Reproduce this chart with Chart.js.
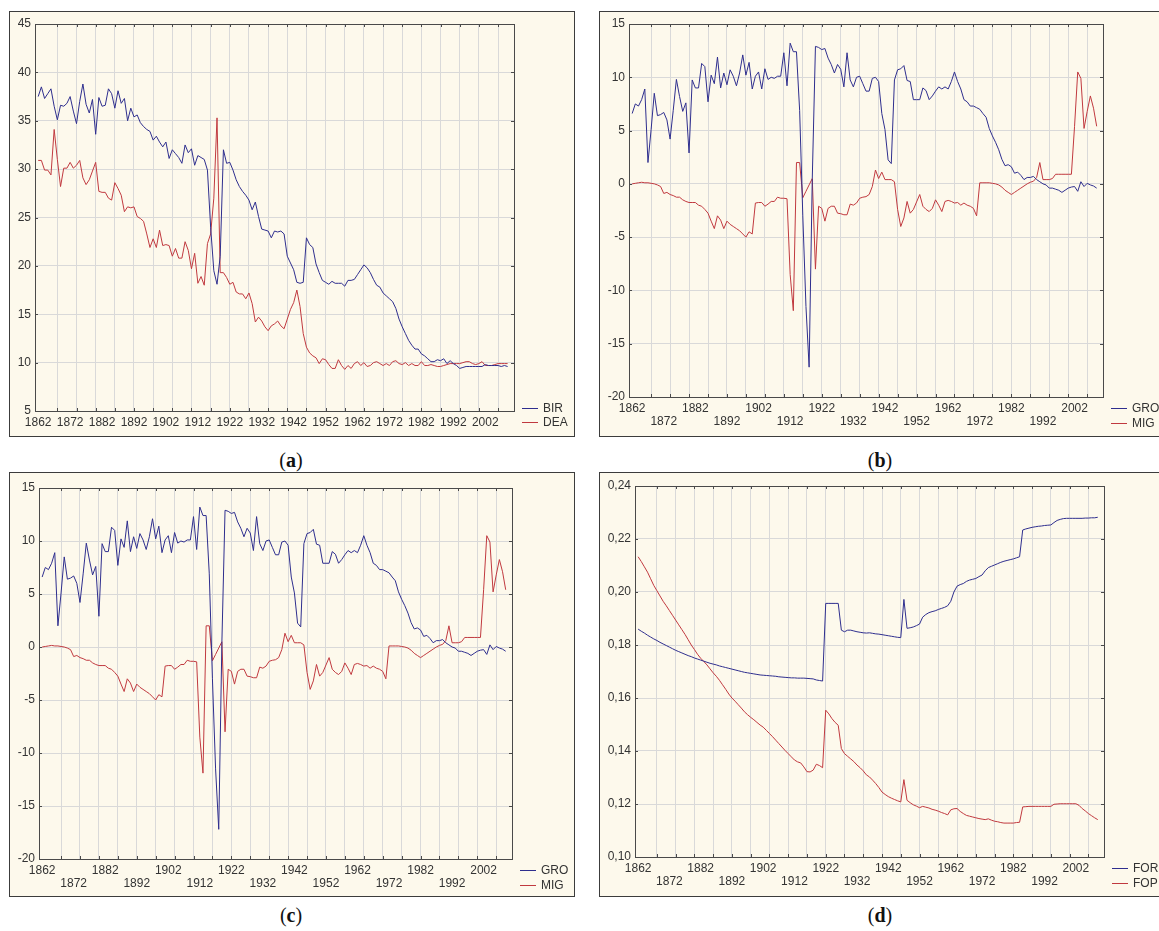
<!DOCTYPE html>
<html>
<head>
<meta charset="utf-8">
<script src="https://cdn.jsdelivr.net/npm/chart.js@4.4.1/dist/chart.umd.min.js"></script>
<style>
  body { margin: 0; width: 1159px; height: 931px; position: relative; overflow: hidden; background: #fff; }
  .panel { position: absolute; background: #fdf9ec; border: 1px solid #3c3c3c; box-sizing: border-box; }
  .panel canvas { display: block; }
  .cap { position: absolute; transform: translate(-50%, -50%); font-family: "Liberation Serif", "DejaVu Serif", serif; font-size: 20px; color: #111; }
  .cap b { font-weight: bold; }
</style>
</head>
<body>

<div class="panel" style="left:9px;top:11px;width:566px;height:426px"><canvas id="chartA" width="564" height="424"></canvas></div>
<div class="panel" style="left:599px;top:11px;width:566px;height:426px"><canvas id="chartB" width="564" height="424"></canvas></div>
<div class="panel" style="left:9px;top:472px;width:566px;height:425px"><canvas id="chartC" width="564" height="423"></canvas></div>
<div class="panel" style="left:599px;top:472px;width:566px;height:425px"><canvas id="chartD" width="564" height="423"></canvas></div>

<div class="cap" style="left:291px;top:460px">(<b>a</b>)</div>
<div class="cap" style="left:880px;top:460px">(<b>b</b>)</div>
<div class="cap" style="left:291px;top:915px">(<b>c</b>)</div>
<div class="cap" style="left:880px;top:915px">(<b>d</b>)</div>

<script>
// yearly series, 1862 .. 2009
const FIRST_YEAR = 1862;

const bir = [
  37.5, 38.5, 37.3, 37.8, 38.3, 36.5, 35.1, 36.6, 36.5, 36.8,
  37.5, 36.0, 34.7, 37.0, 38.8, 36.7, 35.8, 37.2, 33.6, 37.4,
  36.5, 36.6, 38.3, 37.8, 36.3, 38.1, 36.8, 37.3, 35.0, 36.3,
  35.4, 35.6, 34.8, 34.4, 34.1, 33.9, 33.0, 33.4, 32.8, 32.3,
  32.8, 31.1, 32.0, 31.6, 31.2, 30.6, 32.5, 31.7, 32.1, 30.4,
  31.4, 31.2, 31.0, 29.9, 24.0, 19.5, 18.1, 21.0, 32.0, 30.6,
  30.7, 29.9, 28.9, 28.2, 27.7, 27.3, 26.8, 25.8, 26.6, 25.1,
  23.8, 23.7, 23.6, 22.9, 23.6, 23.5, 23.6, 23.3, 21.0, 20.3,
  19.6, 18.3, 18.2, 18.3, 22.9, 22.2, 21.9, 20.2, 19.3, 18.5,
  18.3, 18.1, 18.4, 18.2, 18.2, 18.2, 17.9, 18.5, 18.5, 18.6,
  19.1, 19.6, 20.1, 19.8, 19.3, 18.6, 18.0, 17.8, 17.2, 16.9,
  16.6, 16.3, 15.6, 14.5, 13.7, 13.0, 12.3, 11.8, 11.4, 11.4,
  10.9, 10.7, 10.4, 10.1, 10.1, 10.3, 10.2, 10.4, 9.9, 10.2,
  9.9, 9.7, 9.4, 9.5, 9.6, 9.6, 9.6, 9.6, 9.6, 9.6,
  9.8, 9.7, 9.7, 9.7, 9.7, 9.6, 9.7, 9.6
];
const dea = [
  30.9, 30.9, 29.9, 29.9, 29.4, 34.1, 31.0, 28.2, 30.1, 30.1,
  30.7, 30.1, 30.4, 30.9, 29.1, 28.4, 28.9, 29.8, 30.7, 27.7,
  27.6, 27.6, 27.0, 26.8, 28.6, 28.0, 27.3, 25.6, 26.1, 26.0,
  26.1, 25.1, 24.9, 24.6, 23.3, 21.9, 22.8, 21.9, 23.7, 22.1,
  22.2, 22.1, 21.0, 21.8, 20.8, 20.8, 22.5, 21.6, 19.7, 21.3,
  18.2, 18.9, 18.0, 22.3, 23.3, 27.0, 35.3, 19.3, 19.3, 18.8,
  18.1, 18.3, 17.3, 17.1, 17.1, 16.6, 17.2, 16.1, 14.2, 14.7,
  14.3, 13.7, 13.3, 13.8, 14.0, 14.3, 13.8, 13.5, 14.5, 15.5,
  16.2, 17.5, 15.8, 13.0, 11.6, 11.0, 10.7, 10.5, 9.9, 10.4,
  10.3, 9.8, 9.4, 9.4, 10.3, 9.7, 9.3, 9.7, 9.4, 9.9,
  10.1, 9.7, 10.0, 9.6, 9.7, 10.0, 10.1, 9.9, 9.7, 9.9,
  9.7, 10.1, 10.2, 9.9, 9.8, 10.0, 9.7, 9.9, 9.7, 9.7,
  10.1, 9.7, 9.7, 9.8, 9.7, 9.6, 9.6, 9.7, 9.8, 9.9,
  9.9, 9.9, 9.9, 10.0, 10.1, 10.1, 9.9, 9.8, 9.9, 10.1,
  9.7, 9.7, 9.7, 9.8, 9.9, 9.9, 9.9, 9.9
];
const gro = [
  6.6, 7.5, 7.3, 7.9, 8.9, 2.0, 5.1, 8.5, 6.4, 6.5,
  6.7, 6.0, 4.2, 6.9, 9.8, 8.2, 6.8, 7.6, 2.9, 9.75,
  9.0, 9.0, 11.3, 11.0, 7.7, 10.2, 9.4, 11.9, 9.0, 10.4,
  9.3, 10.7, 10.1, 9.2, 10.4, 12.1, 10.2, 11.4, 8.9, 10.1,
  10.5, 8.9, 10.8, 9.8, 10.0, 9.9, 10.1, 10.1, 12.3, 9.2,
  13.2, 12.4, 12.4, 6.9, -3.0, -11.5, -17.2, 0.5, 12.9, 12.8,
  12.6, 12.7, 11.8, 11.2, 10.4, 11.2, 10.75, 9.1, 12.3, 9.75,
  9.1, 10.0, 10.1, 9.4, 8.7, 8.7, 9.9, 10.0, 9.6, 6.6,
  5.1, 2.25, 1.9, 9.75, 10.7, 10.8, 11.1, 9.7, 9.6, 7.9,
  7.9, 7.9, 9.0, 8.75, 7.9, 8.25, 8.7, 9.1, 8.9, 9.1,
  8.9, 9.6, 10.5, 9.6, 8.9, 7.9, 7.7, 7.3, 7.3, 7.15,
  7.0, 6.6, 6.25, 5.2, 4.5, 3.9, 3.2, 2.3, 1.7, 1.8,
  1.6, 1.0, 1.1, 0.8, 0.4, 0.6, 0.6, 0.7, 0.4, 0.2,
  0.0, -0.1, -0.4, -0.4, -0.5, -0.6, -0.8, -0.6, -0.4, -0.3,
  -0.25, -0.7, 0.2, -0.25, 0.05, -0.1, -0.2, -0.4
];
const mig = [
  0.0, 0.05, 0.1, 0.15, 0.1, 0.1, 0.05, 0.0, -0.1, -0.25,
  -0.9, -0.8, -1.0, -1.1, -1.25, -1.25, -1.5, -1.65, -1.75, -1.75,
  -1.75, -2.0, -2.1, -2.4, -2.75, -3.5, -4.2, -3.0, -3.4, -4.2,
  -3.5, -3.8, -4.0, -4.2, -4.4, -4.7, -5.0, -4.5, -4.7, -1.8,
  -1.75, -1.75, -2.1, -1.9, -1.65, -1.65, -1.25, -1.35, -1.35, -1.4,
  -8.5, -11.9, 2.0, 2.0, -1.3, -0.7, -0.1, 0.5, -8.0, -2.1,
  -2.3, -3.5, -2.3, -2.1, -2.1, -2.75, -2.8, -2.9, -2.9, -1.9,
  -2.0, -1.8, -1.35, -1.25, -1.2, -1.0, -0.25, 1.3, 0.5, 1.1,
  0.4, 0.4, 0.4, 0.2, -2.4, -4.0, -3.2, -1.65, -2.75, -2.4,
  -1.7, -1.0, -2.1, -2.4, -2.6, -2.3, -1.5, -2.0, -2.6, -1.65,
  -1.55, -1.65, -1.8, -1.75, -2.0, -1.8, -2.0, -2.1, -2.3, -3.0,
  0.1, 0.1, 0.1, 0.1, 0.05, 0.0, -0.1, -0.3, -0.6, -0.8,
  -1.0, -0.8, -0.6, -0.4, -0.2, 0.0, 0.15, 0.25, 0.6, 2.0,
  0.4, 0.4, 0.4, 0.5, 0.9, 0.9, 0.9, 0.9, 0.9, 0.9,
  5.4, 10.5, 9.9, 5.2, 6.8, 8.25, 7.1, 5.4
];
const forS = [
  .1860, .1852, .1845, .1837, .1830, .1823, .1817, .1810, .1804, .1798,
  .1792, .1786, .1780, .1775, .1770, .1765, .1760, .1756, .1751, .1747,
  .1743, .1739, .1735, .1731, .1728, .1725, .1721, .1718, .1715, .1712,
  .1709, .1706, .1703, .1700, .1697, .1695, .1693, .1691, .1689, .1687,
  .1686, .1685, .1684, .1683, .1682, .1680, .1679, .1678, .1677, .1676,
  .1676, .1675, .1675, .1675, .1674, .1673, .1672, .1668, .1666, .1664,
  .1957, .1957, .1957, .1957, .1957, .1856, .1850, .1856, .1856, .1853,
  .1850, .1848, .1846, .1845, .1846, .1844, .1842, .1841, .1839, .1837,
  .1835, .1833, .1831, .1829, .1828, .1972, .1863, .1865, .1868, .1873,
  .1879, .1905, .1915, .1922, .1926, .1929, .1934, .1938, .1942, .1948,
  .1965, .2000, .2022, .2028, .2032, .2040, .2045, .2048, .2051, .2058,
  .2064, .2080, .2092, .2097, .2102, .2107, .2112, .2116, .2119, .2122,
  .2125, .2129, .2133, .2234, .2238, .2241, .2244, .2246, .2248, .2249,
  .2251, .2252, .2253, .2262, .2270, .2274, .2277, .2278, .2278, .2278,
  .2278, .2278, .2278, .2279, .2279, .2280, .2280, .2282
];
const fop = [
  .2133, .2115, .2095, .2075, .2050, .2025, .2005, .1985, .1965, .1948,
  .1930, .1912, .1894, .1876, .1858, .1840, .1820, .1800, .1783, .1765,
  .1750, .1738, .1725, .1710, .1695, .1682, .1667, .1650, .1633, .1615,
  .1600, .1588, .1575, .1562, .1548, .1537, .1527, .1518, .1508, .1498,
  .1490, .1478, .1466, .1454, .1441, .1428, .1415, .1402, .1390, .1378,
  .1366, .1359, .1355, .1340, .1322, .1321, .1328, .1350, .1345, .1337,
  .1554, .1540, .1522, .1508, .1497, .1409, .1390, .1380, .1370, .1360,
  .1347, .1337, .1325, .1310, .1302, .1290, .1277, .1262, .1245, .1236,
  .1228, .1222, .1217, .1212, .1208, .1292, .1214, .1205, .1197, .1192,
  .1186, .1191, .1188, .1185, .1180, .1177, .1173, .1168, .1164, .1159,
  .1178, .1182, .1183, .1172, .1164, .1157, .1154, .1151, .1148, .1145,
  .1143, .1141, .1144, .1139, .1135, .1133, .1130, .1128, .1128, .1128,
  .1128, .1130, .1131, .1189, .1190, .1191, .1191, .1191, .1191, .1191,
  .1191, .1191, .1191, .1199, .1200, .1201, .1201, .1201, .1201, .1201,
  .1201, .1195, .1183, .1174, .1164, .1156, .1148, .1141
];

// axis ticks
const yearLabels = [1862, 1872, 1882, 1892, 1902, 1912, 1922, 1932, 1942, 1952, 1962, 1972, 1982, 1992, 2002];
const yearGrid = [1868, 1874, 1880, 1886, 1892, 1898, 1904, 1910, 1916, 1922, 1928, 1934, 1940, 1946,
                  1952, 1958, 1964, 1970, 1976, 1982, 1988, 1994, 2000, 2006];
const ticksA = [5, 10, 15, 20, 25, 30, 35, 40, 45];
const ticksB = [-20, -15, -10, -5, 0, 5, 10, 15];
const ticksD = [0.10, 0.12, 0.14, 0.16, 0.18, 0.20, 0.22, 0.24];

const BLUE = '#2e2e8e';
const RED = '#c0393f';
const GRID = '#d9d9d9';
const TEXT = '#333';
const FONT = '"Liberation Sans", Arial, sans-serif';
const FONT_SIZE = 12;

const years = bir.map((_, i) => FIRST_YEAR + i);

// plot frame, inward tick marks and the little line legend
const framePlugin = {
  id: 'frame',
  afterDatasetsDraw(chart) {
    const { ctx, chartArea: a, scales } = chart;
    const o = chart.options.plugins.frame;
    ctx.save();
    ctx.strokeStyle = '#4a4a4a';
    ctx.lineWidth = 1;
    ctx.strokeRect(Math.round(a.left) + 0.5, Math.round(a.top) + 0.5,
                   Math.round(a.right - a.left), Math.round(a.bottom - a.top));
    ctx.beginPath();
    yearGrid.forEach(v => {
      const x = Math.round(scales.x.getPixelForValue(v)) + 0.5;
      ctx.moveTo(x, a.top); ctx.lineTo(x, a.top + 3);
      ctx.moveTo(x, a.bottom); ctx.lineTo(x, a.bottom - 3);
    });
    o.yTicks.forEach(v => {
      const y = Math.round(scales.y.getPixelForValue(v)) + 0.5;
      ctx.moveTo(a.right, y); ctx.lineTo(a.right - 3, y);
      ctx.moveTo(a.left, y); ctx.lineTo(a.left + 3, y);
    });
    ctx.stroke();

    ctx.font = FONT_SIZE + 'px ' + FONT;
    ctx.textBaseline = 'middle';
    ctx.fillStyle = TEXT;
    chart.data.datasets.forEach((ds, i) => {
      const y = Math.round(a.bottom + o.legendRows[i]) + 0.5;
      ctx.strokeStyle = ds.borderColor;
      ctx.beginPath();
      ctx.moveTo(a.right + 8, y); ctx.lineTo(a.right + 24, y);
      ctx.stroke();
      ctx.fillText(ds.label, a.right + 29, y);
    });
    ctx.restore();
  }
};

function buildChart(id, o) {
  const cv = document.getElementById(id);
  const W = cv.width, H = cv.height;
  const toPoints = vals => vals.map((v, i) => ({ x: years[i], y: v }));
  const axisFont = { family: FONT, size: FONT_SIZE, lineHeight: 1.08 };

  return new Chart(cv, {
    type: 'line',
    data: {
      datasets: o.series.map(s => ({
        label: s.label,
        data: toPoints(s.values),
        borderColor: s.color,
        borderWidth: 1,
        pointRadius: 0,
        tension: 0,
        xAxisID: 'x',
        yAxisID: 'y'
      }))
    },
    options: {
      responsive: false,
      animation: false,
      events: [],
      layout: { padding: { top: o.area.top, right: W - o.area.right, left: 0, bottom: 0 } },
      plugins: {
        legend: { display: false },
        tooltip: { enabled: false },
        frame: { yTicks: o.yTicks, legendRows: o.legendRows }
      },
      scales: {
        x: {
          type: 'linear', position: 'bottom', min: 1861, max: 2011,
          afterBuildTicks: sc => { sc.ticks = yearLabels.map(v => ({ value: v })); },
          afterFit: sc => { sc.height = H - o.area.bottom; },
          grid: { display: false, drawTicks: false },
          border: { display: false },
          ticks: {
            autoSkip: false, maxRotation: 0, padding: 5, color: TEXT, font: axisFont,
            callback: (v, i) => o.twoRows ? (i % 2 === 0 ? [String(v), ''] : ['', String(v)]) : String(v)
          }
        },
        xg: {
          type: 'linear', position: 'bottom', min: 1861, max: 2011,
          afterBuildTicks: sc => { sc.ticks = yearGrid.map(v => ({ value: v })); },
          afterFit: sc => { sc.height = 0; },
          grid: { color: GRID, drawTicks: false },
          border: { display: false },
          ticks: { display: false }
        },
        y: {
          min: o.yTicks[0], max: o.yTicks[o.yTicks.length - 1],
          afterBuildTicks: sc => { sc.ticks = o.yTicks.map(v => ({ value: v })); },
          afterFit: sc => { sc.width = o.area.left; },
          grid: { color: GRID, drawTicks: false },
          border: { display: false },
          ticks: { padding: 4, color: TEXT, font: axisFont, callback: o.yFormat }
        }
      }
    },
    plugins: [framePlugin]
  });
}

const intFmt = v => String(v);
const commaFmt = v => v.toFixed(2).replace('.', ',');

buildChart('chartA', {
  series: [{ label: 'BIR', values: bir, color: BLUE }, { label: 'DEA', values: dea, color: RED }],
  yTicks: ticksA, yFormat: intFmt, twoRows: false,
  area: { left: 25, top: 12, right: 504, bottom: 399 },
  legendRows: [-3, 11]
});
buildChart('chartB', {
  series: [{ label: 'GRO', values: gro, color: BLUE }, { label: 'MIG', values: mig, color: RED }],
  yTicks: ticksB, yFormat: intFmt, twoRows: true,
  area: { left: 29, top: 12, right: 503, bottom: 385 },
  legendRows: [11, 26]
});
buildChart('chartC', {
  series: [{ label: 'GRO', values: gro, color: BLUE }, { label: 'MIG', values: mig, color: RED }],
  yTicks: ticksB, yFormat: intFmt, twoRows: true,
  area: { left: 29, top: 15, right: 502, bottom: 386 },
  legendRows: [11, 26]
});
buildChart('chartD', {
  series: [{ label: 'FOR', values: forS, color: BLUE }, { label: 'FOP', values: fop, color: RED }],
  yTicks: ticksD, yFormat: commaFmt, twoRows: true,
  area: { left: 35, top: 13, right: 504, bottom: 384 },
  legendRows: [11, 26]
});
</script>
</body>
</html>
